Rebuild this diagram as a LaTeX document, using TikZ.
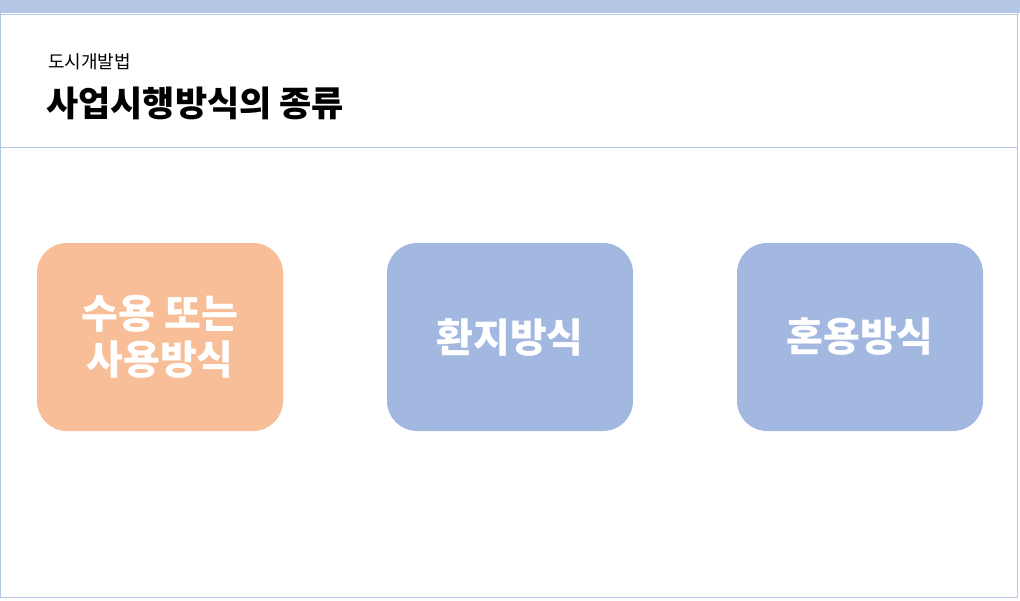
\documentclass[tikz,border=0pt]{standalone}
\usepackage{fontspec}
\setmainfont{Noto Sans CJK KR}
\definecolor{topbar}{HTML}{B4C7E7}
\definecolor{frame}{HTML}{B4C7E7}
\definecolor{orangebox}{HTML}{F7BE98}
\definecolor{bluebox}{HTML}{A2B8E1}
\tikzset{
  kind/.style={rounded corners=30pt, minimum width=246pt, minimum height=188pt, text=white, font=\fontsize{40}{50}\selectfont\bfseries, align=center, inner sep=0pt}
}
\begin{document}
\begin{tikzpicture}[x=1pt,y=-1pt]
\useasboundingbox (0,0) rectangle (1020,600);
\fill[white] (0,0) rectangle (1020,600);
\draw[frame, line width=1pt] (0.5,0.5) rectangle (1017.5,597.5);
\fill[topbar] (0,0) rectangle (1020,13);
\draw[frame] (0,14.5) -- (1017,14.5);
\draw[frame] (0,147.5) -- (1017,147.5);
\node[anchor=west, inner sep=0pt, font=\fontsize{18}{22}\selectfont] (sub) at (48,62) {도시개발법};
\node[anchor=west, inner sep=0pt, font=\fontsize{35}{42}\selectfont\bfseries] (title) at (46,103) {사업시행방식의 종류};
\node[kind, fill=orangebox] (a) at (160,337) {수용 또는\\[-4pt]사용방식};
\node[kind, fill=bluebox] (b) at (510,337) {환지방식};
\node[kind, fill=bluebox] (c) at (860,337) {혼용방식};
\end{tikzpicture}
\end{document}
